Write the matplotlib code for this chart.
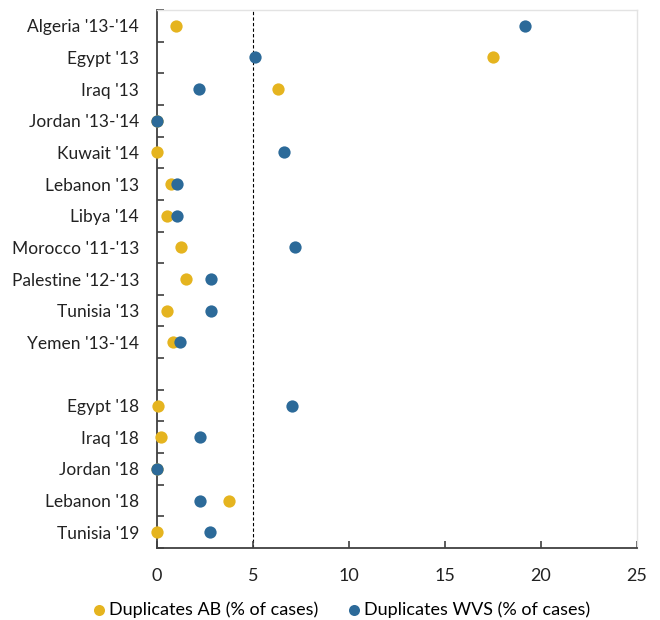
import numpy as np
import matplotlib.pyplot as plt

plt.rcParams['font.family'] = ['Lato', 'DejaVu Sans']

labels = ["Algeria '13-'14", "Egypt '13", "Iraq '13", "Jordan '13-'14", "Kuwait '14",
          "Lebanon '13", "Libya '14", "Morocco '11-'13", "Palestine '12-'13", "Tunisia '13",
          "Yemen '13-'14", "", "Egypt '18", "Iraq '18", "Jordan '18", "Lebanon '18",
          "Tunisia '19"]
ab = [1.0, 17.5, 6.3, 0.0, 0.0, 0.7, 0.5, 1.25, 1.5, 0.5, 0.85, np.nan,
      0.05, 0.2, 0.0, 3.75, 0.0]
wvs = [19.15, 5.1, 2.2, 0.0, 6.6, 1.05, 1.05, 7.2, 2.8, 2.8, 1.2, np.nan,
       7.05, 2.25, 0.0, 2.25, 2.75]

yellow = '#E5B41F'
blue = '#2C6A99'

fig = plt.figure(figsize=(6.6, 6.2), dpi=100)
ax = fig.add_axes([0.238, 0.116, 0.727, 0.868])

y = np.arange(len(labels))
ax.scatter(ab, y, s=78, color=yellow, zorder=3, linewidths=0, clip_on=False,
           label='Duplicates AB (% of cases)')
ax.scatter(wvs, y, s=78, color=blue, zorder=4, linewidths=0, clip_on=False,
           label='Duplicates WVS (% of cases)')
ax.axvline(5, color='black', lw=0.8, ls=(0, (3, 2)), zorder=1)

ax.set_xlim(0, 25)
ax.set_ylim(len(labels) - 0.5, -0.5)
ax.set_xticks([0, 5, 10, 15, 20, 25])
ax.set_yticks(y)
ax.set_yticklabels(labels)
ax.set_yticks(np.arange(-0.5, len(labels), 1.0), minor=True)
ax.tick_params(axis='y', which='major', length=0, labelsize=12.5, pad=13, colors='#222222')
ax.tick_params(axis='y', which='minor', length=5, direction='in', width=1.2, color='#404040')
ax.tick_params(axis='x', which='major', length=5, direction='in', width=1.2, color='#404040',
               labelsize=13, pad=14, labelcolor='#222222')

for s in ['left', 'bottom']:
    ax.spines[s].set_color('#404040')
    ax.spines[s].set_linewidth(1.3)
for s in ['top', 'right']:
    ax.spines[s].set_color('#E3E3E3')
    ax.spines[s].set_linewidth(1.0)

fig.legend(loc='center', bbox_to_anchor=(0.515, 0.017), ncol=2, frameon=False,
           fontsize=13, handletextpad=0.05, handlelength=1.0, columnspacing=1.5,
           markerscale=0.9)

fig.savefig('out.png', dpi=100)
